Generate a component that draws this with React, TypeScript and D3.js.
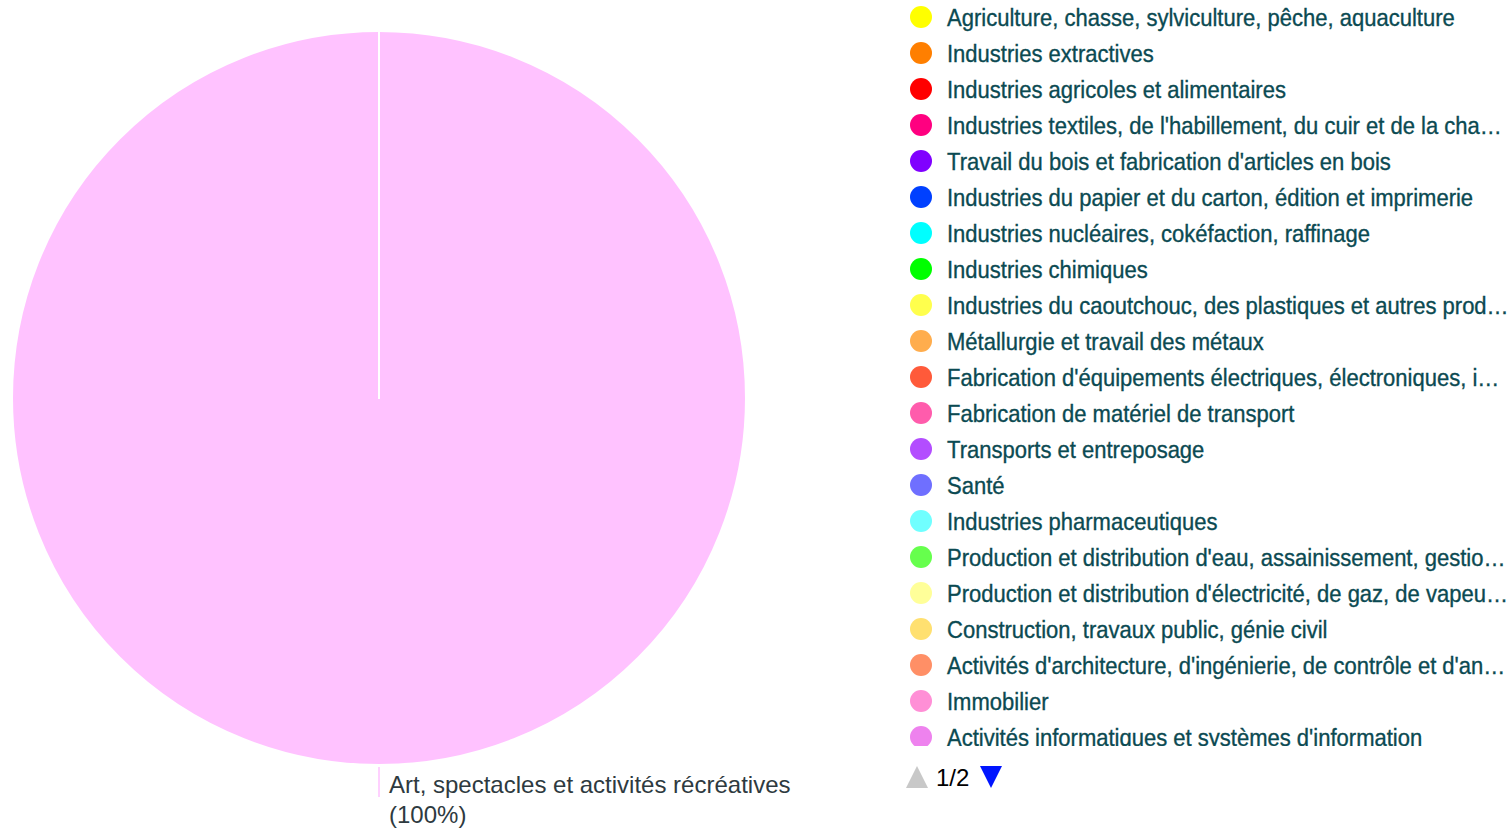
import React, { useEffect, useRef } from 'react';
import * as d3 from 'd3';

const categories = [
  'Agriculture, chasse, sylviculture, pêche, aquaculture',
  'Industries extractives',
  'Industries agricoles et alimentaires',
  "Industries textiles, de l'habillement, du cuir et de la chaussure",
  "Travail du bois et fabrication d'articles en bois",
  'Industries du papier et du carton, édition et imprimerie',
  'Industries nucléaires, cokéfaction, raffinage',
  'Industries chimiques',
  'Industries du caoutchouc, des plastiques et autres produits minéraux',
  'Métallurgie et travail des métaux',
  "Fabrication d'équipements électriques, électroniques, informatiques",
  'Fabrication de matériel de transport',
  'Transports et entreposage',
  'Santé',
  'Industries pharmaceutiques',
  "Production et distribution d'eau, assainissement, gestion des déchets",
  "Production et distribution d'électricité, de gaz, de vapeur et d'air conditionné",
  'Construction, travaux public, génie civil',
  "Activités d'architecture, d'ingénierie, de contrôle et d'analyses techniques",
  'Immobilier',
  "Activités informatiques et systèmes d'information",
  'Art, spectacles et activités récréatives',
];

const values = [0, 0, 0, 0, 0, 0, 0, 0, 0, 0, 0, 0, 0, 0, 0, 0, 0, 0, 0, 0, 0, 100];

const colors = [
  '#ffff00', '#ff7f00', '#ff0000', '#ff0080', '#8000ff', '#0040ff', '#00ffff', '#00ff00',
  '#ffff4d', '#ffad4d', '#ff5a3a', '#ff5cac', '#b34dff', '#6f6fff', '#70ffff', '#66ff4d',
  '#ffff99', '#ffe070', '#ff8f66', '#ff8fd6', '#ee82ee', '#ffc2ff',
];

const pageSize = 21;

const App = () => {
  const svgRef = useRef<SVGSVGElement>(null);

  useEffect(() => {
    const svg = d3.select(svgRef.current);
    svg.selectAll('*').remove();
    const cx = 379;
    const cy = 398;
    const radius = 367;
    const font = 'Liberation Sans, Arial, sans-serif';

    const data = categories.map((name, i) => ({ name, value: values[i], color: colors[i] }));
    const pie = d3.pie<any>().sort(null).value((d) => d.value);
    const arcs = pie(data);
    const arc = d3.arc<any>().innerRadius(0).outerRadius(radius);

    const g = svg.append('g').attr('transform', `translate(${cx},${cy})`);
    // big slices first, empty ones on top so their edge shows as a white line
    const ordered = [...arcs].sort((a, b) => b.data.value - a.data.value);
    g.selectAll('path')
      .data(ordered)
      .enter()
      .append('path')
      .attr('d', arc)
      .attr('fill', (d) => d.data.color)
      .attr('stroke', '#fff')
      .attr('stroke-width', 2)
      .attr('stroke-linejoin', 'round');

    // label with leader line
    arcs
      .filter((d) => d.data.value > 0)
      .forEach((d) => {
        const mid = (d.startAngle + d.endAngle) / 2;
        const x0 = Math.sin(mid) * (radius + 2);
        const y0 = -Math.cos(mid) * (radius + 2);
        g.append('line')
          .attr('x1', x0)
          .attr('y1', y0)
          .attr('x2', x0)
          .attr('y2', y0 + 30)
          .attr('stroke', d.data.color)
          .attr('stroke-width', 1.5);
        const t = g
          .append('text')
          .attr('x', x0 + 10)
          .attr('y', y0 + 26)
          .attr('font-family', font)
          .attr('font-size', 24)
          .attr('fill', '#2e3a40');
        t.append('tspan').text(d.data.name);
        t.append('tspan')
          .attr('x', x0 + 10)
          .attr('dy', 30)
          .text(`(${Math.round((d.data.value / d3.sum(values)) * 100)}%)`);
      });

    // legend, first page (clipped at the bottom like the original)
    const lx = 921;
    const ly = 17;
    const step = 36;
    const maxW = 562;
    const sx = 0.918;
    svg
      .append('clipPath')
      .attr('id', 'legend-clip')
      .append('rect')
      .attr('x', 890)
      .attr('y', 0)
      .attr('width', 622)
      .attr('height', 746);
    const legend = svg.append('g').attr('clip-path', 'url(#legend-clip)');
    data.slice(0, pageSize).forEach((d, i) => {
      const y = ly + i * step;
      legend.append('circle').attr('cx', lx).attr('cy', y).attr('r', 11).attr('fill', d.color);
      const t = legend
        .append('text')
        .attr('transform', `translate(${lx + 26},${y + 8.5}) scale(${sx},1)`)
        .attr('font-family', font)
        .attr('font-size', 24)
        .attr('fill', '#0b4a52')
        .attr('stroke', '#0b4a52')
        .attr('stroke-width', 0.35)
        .text(d.name);
      const node = t.node() as SVGTextElement;
      if (node.getComputedTextLength() * sx > maxW) {
        let s = d.name;
        while (s.length > 1) {
          s = s.slice(0, -1);
          node.textContent = s.trimEnd() + '…';
          if (node.getComputedTextLength() * sx <= maxW) break;
        }
      }
    });

    // pager
    const py = 777;
    const pager = svg.append('g');
    pager
      .append('path')
      .attr('d', d3.line()([[906, py + 11], [917, py - 11], [928, py + 11]]) + 'Z')
      .attr('fill', '#c8c8c8');
    pager
      .append('text')
      .attr('x', 936)
      .attr('y', py + 9)
      .attr('font-family', font)
      .attr('font-size', 24)
      .attr('fill', '#000')
      .text('1/' + Math.ceil(categories.length / pageSize));
    pager
      .append('path')
      .attr('d', d3.line()([[980, py - 11], [1002, py - 11], [991, py + 11]]) + 'Z')
      .attr('fill', '#0015ff');
  }, []);

  return (
    <svg
      ref={svgRef}
      width={1512}
      height={830}
      style={{ position: 'absolute', left: 0, top: 0 }}
    />
  );
};

export default App;
